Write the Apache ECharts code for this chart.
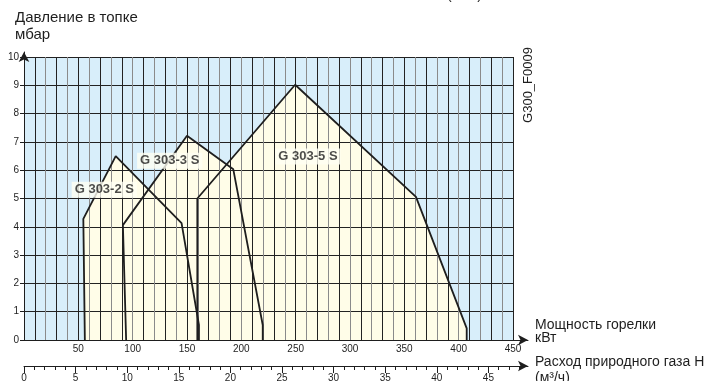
<!DOCTYPE html>
<html><head><meta charset="utf-8">
<script src="https://cdn.jsdelivr.net/npm/echarts@6/dist/echarts.min.js"></script>
<style>html,body{margin:0;padding:0;background:#fff}#c{width:723px;height:381px}</style>
</head><body><div id="c"></div>
<script>
// ---- data ----
const modelNames = ['G 303-2 S', 'G 303-3 S', 'G 303-5 S'];
const model2S = [[56, 0], [54.6, 4.28], [84.4, 6.5], [145, 4.13], [161, 0.53], [161, 0]];
const model3S = [[94, 0], [91, 4.06], [150, 7.22], [192.6, 6.03], [219.7, 0.53], [219.7, 0]];
const model5S = [[159.5, 0], [159.5, 5], [249.5, 9.02], [360.7, 5.06], [407.4, 0.41], [407.4, 0]];
const labelPos = [[73.9, 5.31], [134.1, 6.33], [261.3, 6.48]];
const powerMin = 0, powerMax = 450, powerStep = 10, powerLabelStep = 50;
const pressureMin = 0, pressureMax = 10, pressureStep = 1;
const gasMin = 0, gasMinorMax = 48, gasMajorMax = 45, gasMinorStep = 1, gasMajorStep = 5;

// ---- style / layout ----
const FONT = '"Liberation Sans", Arial, Helvetica, sans-serif';
const INK = '#1e1e1e';
const gasPx = 10.32;
const models = [model2S, model3S, model5S];

const chart = echarts.init(document.getElementById('c'), null, {renderer: 'canvas', width: 723, height: 381});

const hiddenAxis = (gi) => ({gridIndex: gi, type: 'value', show: false, min: 0, max: 1});
const lineOnlyAxis = (gi) => ({
  gridIndex: gi, type: 'value', min: 0, max: 1, z: 4,
  axisLine: {show: true, onZero: false, symbol: ['none', 'arrow'], symbolSize: [8, 10], lineStyle: {color: INK, width: 1}},
  axisTick: {show: false}, axisLabel: {show: false}, splitLine: {show: false}
});

const series = [];
models.forEach((d, i) => {
  series.push({
    type: 'line', name: modelNames[i] + ' fill', xAxisIndex: 0, yAxisIndex: 0, data: d,
    symbol: 'none', showSymbol: false, silent: true, z: 1,
    lineStyle: {opacity: 0}, areaStyle: {color: '#fffde8', opacity: 1}
  });
});
models.forEach((d, i) => {
  series.push({
    type: 'line', name: modelNames[i], xAxisIndex: 0, yAxisIndex: 0, data: d,
    symbol: 'none', showSymbol: false, silent: true, z: 5,
    lineStyle: {color: INK, width: 1.8}
  });
});
series.push({
  type: 'scatter', xAxisIndex: 0, yAxisIndex: 0, z: 6, silent: true,
  data: labelPos.map((p, i) => ({value: p, name: modelNames[i]})),
  symbolSize: 1, itemStyle: {color: 'rgba(0,0,0,0)'},
  label: {show: true, position: 'inside', formatter: '{b}', fontFamily: FONT, fontWeight: 'bold', fontSize: 13,
          color: INK, backgroundColor: '#fffff2', padding: [2, 3, 1, 3]}
});

const txt = (text, x, y, size, extra) => Object.assign({
  type: 'text', x: x, y: y, silent: true, z: 10,
  style: {text: text, fill: INK, fontFamily: FONT, fontSize: size, textAlign: 'left', textVerticalAlign: 'top'}
}, extra || {});

const option = {
  animation: false,
  grid: [
    {left: 24, right: 210, top: 57, bottom: 41, show: true, backgroundColor: '#d8eefa', borderWidth: 0, outerBoundsMode: 'none', containLabel: false},
    {left: 24, right: 195, top: 52, bottom: 41, outerBoundsMode: 'none', containLabel: false},
    {left: 24, right: 195, top: 356, bottom: 15, outerBoundsMode: 'none', containLabel: false},
    {left: 24, right: 723 - 24 - gasMinorMax * gasPx, top: 356, bottom: 15, outerBoundsMode: 'none', containLabel: false},
    {left: 24, right: 723 - 24 - gasMajorMax * gasPx, top: 356, bottom: 15, outerBoundsMode: 'none', containLabel: false}
  ],
  xAxis: [
    {gridIndex: 0, type: 'value', min: powerMin, max: powerMax, interval: powerStep, z: 3,
     axisLine: {show: false}, axisTick: {show: false},
     axisLabel: {show: true, margin: 4, fontSize: 10, fontFamily: FONT, color: INK,
                 formatter: v => (v > 0 && v % powerLabelStep === 0) ? String(v) : ''},
     splitLine: {show: true, lineStyle: {color: ['#8a8a8a', '#222222'], width: 1}}},
    lineOnlyAxis(1),
    lineOnlyAxis(2),
    {gridIndex: 3, type: 'value', min: gasMin, max: gasMinorMax, interval: gasMinorStep,
     axisLine: {show: false}, axisTick: {show: true, length: 4, lineStyle: {color: INK}},
     axisLabel: {show: false}, splitLine: {show: false}},
    {gridIndex: 4, type: 'value', min: gasMin, max: gasMajorMax, interval: gasMajorStep,
     axisLine: {show: false}, axisTick: {show: true, length: 7, lineStyle: {color: INK}},
     axisLabel: {show: true, margin: 7, fontSize: 10, fontFamily: FONT, color: INK},
     splitLine: {show: false}}
  ],
  yAxis: [
    {gridIndex: 0, type: 'value', min: pressureMin, max: pressureMax, interval: pressureStep, z: 3,
     axisLine: {show: false}, axisTick: {show: true, length: 4, lineStyle: {color: INK}},
     axisLabel: {show: true, margin: 5, fontSize: 10, fontFamily: FONT, color: INK},
     splitLine: {show: true, lineStyle: {color: '#222222', width: 1}}},
    lineOnlyAxis(1),
    hiddenAxis(2), hiddenAxis(3), hiddenAxis(4)
  ],
  series: series,
  graphic: [
    txt('Давление в топке', 15, 10, 15),
    txt('мбар', 15, 27, 15),
    txt('Мощность горелки', 535, 318, 14),
    txt('кВт', 535, 331, 14),
    txt('Расход природного газа H', 535, 355, 14),
    txt('(м³/ч)', 535, 371, 14),
    txt('(м³/ч)', 447, -12, 14),
    {type: 'text', x: 528, y: 85, rotation: Math.PI / 2, silent: true, z: 10,
     style: {text: 'G300_F0009', fill: INK, fontFamily: FONT, fontSize: 13, textAlign: 'center', textVerticalAlign: 'middle'}}
  ]
};
chart.setOption(option);
</script></body></html>
